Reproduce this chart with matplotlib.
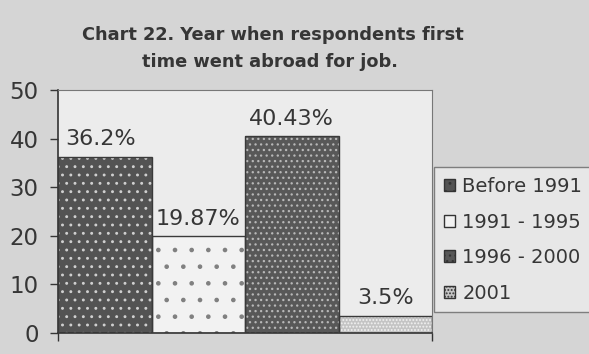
import matplotlib
matplotlib.use("Agg")
import matplotlib.pyplot as plt
from matplotlib.patches import Patch

plt.rcParams['font.family'] = ['DejaVu Sans']
plt.rcParams['hatch.linewidth'] = 0.9

categories = ["Before 1991", "1991 - 1995", "1996 - 2000", "2001"]
values = [36.2, 19.87, 40.43, 3.5]
labels = ["36.2%", "19.87%", "40.43%", "3.5%"]
yticks = [0, 10, 20, 30, 40, 50]

faces = ["#535353", "#f2f2f2", "#585858", "#c4c4c4"]
hatches = ["..", ".", "...", "....."]
hatch_cols = ["#d0d0d0", "#808080", "#b8b8b8", "#f2f2f2"]
text_col = "#363636"

fig = plt.figure(figsize=(5.89, 3.54), dpi=100, facecolor="#d5d5d5")
ax = fig.add_axes([0.0985, 0.059, 0.635, 0.687])
ax.set_facecolor("#ececec")

for i, v in enumerate(values):
    ax.bar(i, v, width=1.0, color=faces[i], edgecolor=hatch_cols[i],
           hatch=hatches[i], linewidth=0, zorder=2)
    ax.bar(i, v, width=1.0, color="none", edgecolor="#3a3a3a",
           linewidth=1.0, zorder=3)
    ax.text(i - (0.04 if i == 0 else 0), v + 2.4, labels[i], ha="center",
            va="baseline", fontsize=16, color=text_col)

ax.set_xlim(-0.5, 3.5)
ax.set_ylim(0, 50)
ax.set_yticks(yticks)
ax.set_xticks([-0.5, 3.5])
ax.set_xticklabels([])
ax.tick_params(axis="y", labelsize=16.5, colors=text_col, length=6, width=1,
               pad=8)
ax.tick_params(axis="x", length=6, width=1, colors="#333333")
for s in ["top", "right"]:
    ax.spines[s].set_color("#777777")
    ax.spines[s].set_linewidth(0.8)
for s in ["left", "bottom"]:
    ax.spines[s].set_color("#333333")
    ax.spines[s].set_linewidth(1.2)

fig.text(0.463, 0.90, "Chart 22. Year when respondents first",
         ha="center", va="center", fontsize=12.8, fontweight="bold",
         color=text_col)
fig.text(0.458, 0.825, "time went abroad for job.",
         ha="center", va="center", fontsize=12.8, fontweight="bold",
         color=text_col)

handles = [Patch(facecolor=faces[i], edgecolor="#333333", hatch=hatches[i])
           for i in range(len(categories))]
leg = fig.legend(handles, categories, loc="upper left",
                 bbox_to_anchor=(0.737, 0.527), fontsize=14,
                 frameon=True, fancybox=False, handlelength=0.55,
                 handleheight=0.55, handletextpad=0.4, labelspacing=0.85,
                 borderpad=0.5, borderaxespad=0, labelcolor=text_col)
leg.get_frame().set_facecolor("#ececec")
leg.get_frame().set_edgecolor("#666666")

fig.savefig("out.png", dpi=100, facecolor=fig.get_facecolor())
